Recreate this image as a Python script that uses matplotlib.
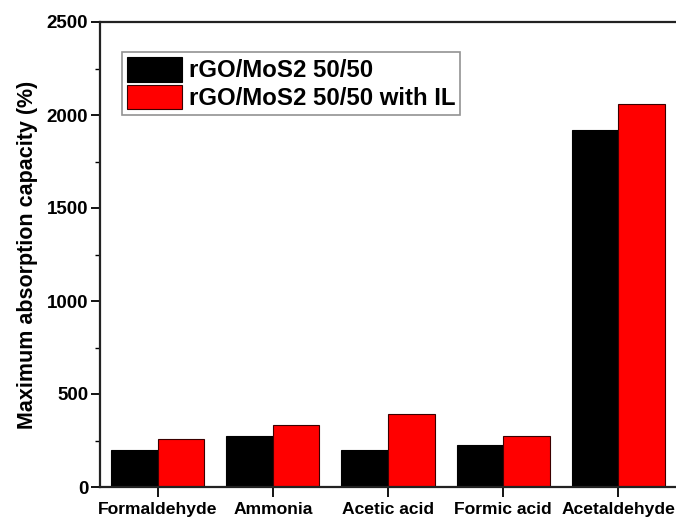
import matplotlib.pyplot as plt
import numpy as np
from matplotlib.ticker import MultipleLocator

plt.rcParams['font.family'] = ['Liberation Sans', 'DejaVu Sans']
plt.rcParams['font.weight'] = 'bold'

categories = ['Formaldehyde', 'Ammonia', 'Acetic acid', 'Formic acid', 'Acetaldehyde']
plain = [200, 274, 199, 224, 1917]
with_il = [260, 335, 390, 276, 2059]
series_names = ['rGO/MoS2 50/50', 'rGO/MoS2 50/50 with IL']

fig = plt.figure(figsize=(6.76, 5.17), dpi=100)
ax = fig.add_axes([100/676, (517-487)/517, 576/676, 465/517])

x = np.arange(len(categories))
w = 0.405
ax.bar(x - w/2, plain, w, color='black', edgecolor='black', linewidth=0.8, label=series_names[0])
ax.bar(x + w/2, with_il, w, color='#ff0000', edgecolor='#3a0000', linewidth=0.8, label=series_names[1])

ax.set_xlim(-0.5, 4.5)
ax.set_ylim(0, 2500)
ax.set_xticks(x)
ax.set_xticklabels(categories, fontsize=12.6, fontweight='bold')
ax.yaxis.set_major_locator(MultipleLocator(500))
ax.yaxis.set_minor_locator(MultipleLocator(250))
ax.tick_params(axis='y', which='major', labelsize=13.5, length=6.5, width=1.3, pad=2)
ax.tick_params(axis='y', which='minor', length=3.5, width=1.0)
ax.tick_params(axis='x', length=7, width=1.3, pad=4)
for lbl in ax.get_yticklabels():
    lbl.set_fontweight('bold')

ax.spines['right'].set_visible(False)
for s in ['left', 'top', 'bottom']:
    ax.spines[s].set_linewidth(1.6)
    ax.spines[s].set_color('#222222')

ax.set_ylabel('Maximum absorption capacity (%)', fontsize=15.5, fontweight='bold', labelpad=6)

leg = ax.legend(loc='upper left', bbox_to_anchor=(0.038, 0.935),
                prop={'weight': 'bold', 'size': 17.3}, frameon=True, fancybox=False,
                handlelength=2.3, handleheight=1.2, labelspacing=0.1,
                handletextpad=0.3, borderpad=0.2, borderaxespad=0)
leg.get_frame().set_edgecolor('#777777')
leg.get_frame().set_linewidth(1.2)

fig.savefig('out.png', dpi=100)
